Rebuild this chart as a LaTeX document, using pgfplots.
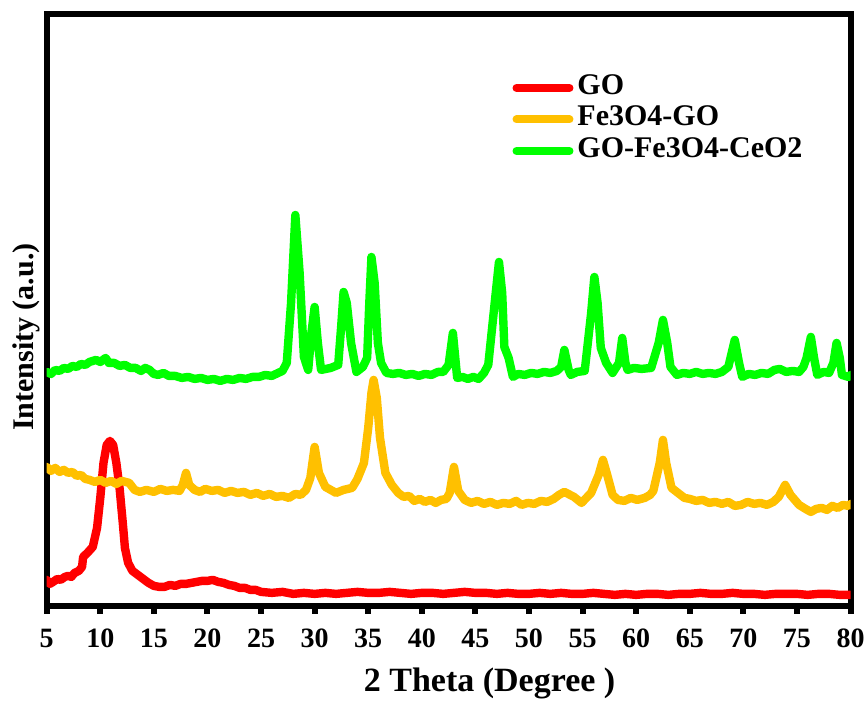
\documentclass[border=0pt]{standalone}
\usepackage{fontspec}
\setmainfont{Liberation Serif}
\usepackage{pgfplots}
\pgfplotsset{compat=1.18}
\usetikzlibrary{calc}
\definecolor{goRed}{RGB}{255,0,0}
\definecolor{feOrange}{RGB}{255,192,0}
\definecolor{ceGreen}{RGB}{0,255,0}

\begin{document}
\begin{tikzpicture}
\begin{axis}[
    name=ax,
    width=402pt, height=296pt,
    scale only axis,
    xmin=5, xmax=80,
    ymin=-3, ymax=589,
    xtick={5,10,...,80},
    ytick=\empty,
    tick align=outside,
    xtick pos=bottom,
    major tick length=4pt,
    tick style={line width=3pt, black},
    axis line style={line width=3pt},
    /pgf/number format/assume math mode=true,
    xticklabel style={font=\bfseries\fontsize{14}{16}\selectfont, yshift=-4.2pt},
    xlabel={2 Theta (Degree )},
    xlabel style={at={(axis description cs:0.551,0)}, anchor=base, yshift=-43pt,
        font=\bfseries\fontsize{17}{20}\selectfont},
    ylabel={Intensity (a.u.)},
    ylabel style={at={(axis description cs:0,0.454)}, anchor=south, rotate=0,
        font=\bfseries\fontsize{15}{18}\selectfont},
    every axis plot/.append style={line width=4.2pt, line join=round, line cap=round},
    legend style={at={(rel axis cs:0.579,0.9025)}, anchor=north west,
        draw=none, fill=none, inner sep=0pt,
        font=\bfseries\fontsize{15}{18}\selectfont,
        nodes={inner ysep=0pt, inner xsep=2pt, text height=11pt, text depth=4.8pt}},
    legend cell align=left,
    legend image code/.code={\draw[#1, line width=4pt, line cap=round] (2pt,0pt) -- (28.5pt,0pt);},
]

% GO
\addplot[color=goRed] coordinates {
(5,23)(5.3,19)(5.6,21)(6,24)(6.3,23)(6.7,26)(7,27)(7.3,26)(7.6,30)(8,32)
(8.3,36)(8.4,46)(8.8,50)(9.3,56)(9.7,75)(10.0,105)(10.3,140)(10.6,158)
(10.9,162)(11.2,158)(11.5,140)(11.8,115)(12.1,80)(12.3,55)(12.6,40)(13,32)
(13.5,28)(14,24)(14.5,20)(15,17)(15.5,16)(16,16)(16.5,18)(17,17)(17.5,19)
(18,19)(18.5,20)(19,21)(19.5,22)(20,22)(20.5,23)(21,21)(21.5,20)(22,18)
(22.5,17)(23,15)(23.5,15)(24,13)(24.5,13)(25,11)(26,10)(27,11)(28,9)(29,10)
(30,9)(31,10)(32,9)(33,10)(34,11)(35,10)(36,10)(37,11)(38,10)(39,9)(40,10)
(41,10)(42,9)(43,10)(44,11)(45,10)(46,10)(47,9)(48,10)(49,9)(50,9)(51,10)
(52,9)(53,10)(54,9)(55,9)(56,10)(57,9)(58,8)(59,9)(60,8)(61,9)(62,9)(63,8)
(64,9)(65,9)(66,10)(67,9)(68,9)(69,10)(70,9)(71,9)(72,8)(73,9)(74,9)(75,9)
(76,8)(77,9)(78,9)(79,8)(80,8)
};

% Fe3O4-GO
\addplot[color=feOrange] coordinates {
(5,136)(5.4,132)(5.8,135)(6.2,131)(6.6,133)(7,130)(7.4,131)(7.8,127)(8.2,128)
(8.6,124)(9,123)(9.5,121)(10,123)(10.5,120)(11,122)(11.5,119)(12,122)
(12.7,120)(13.2,113)(13.7,111)(14.3,113)(15,111)(15.6,114)(16.2,112)
(16.8,113)(17.4,112)(17.7,118)(18,130)(18.3,118)(18.8,113)(19.3,111)
(19.8,114)(20.4,112)(21,113)(21.6,110)(22.2,112)(22.8,110)(23.4,111)(24,108)
(24.6,110)(25.2,107)(25.8,109)(26.4,106)(27,107)(27.6,105)(28.2,109)
(28.7,108)(29.2,113)(29.6,125)(30,156)(30.4,130)(31,116)(32,110)(32.7,113)
(33.5,115)(34,124)(34.6,140)(35,175)(35.3,210)(35.5,223)(35.8,205)(36.1,165)
(36.6,130)(37.2,118)(37.8,110)(38.3,106)(38.8,107)(39.3,102)(39.8,104)
(40.3,101)(40.8,103)(41.3,100)(41.8,103)(42.3,104)(42.6,110)(43,136)
(43.4,112)(44,103)(44.6,100)(45.2,102)(45.8,99)(46.4,101)(47,98)(47.6,100)
(48.2,99)(48.8,102)(49.3,98)(49.9,100)(50.5,99)(51.1,102)(51.7,101)
(52.3,104)(52.8,108)(53.3,111)(54.2,106)(54.9,100)(55.8,110)(56.5,128)
(56.9,143)(57.3,128)(57.8,108)(58.3,103)(58.9,102)(59.5,105)(60.1,103)
(60.8,105)(61.3,108)(61.6,112)(62.2,140)(62.5,163)(62.8,140)(63.3,115)
(63.9,110)(64.5,105)(65,104)(65.6,102)(66.2,103)(66.8,100)(67.4,101)(68,99)
(68.6,101)(69.2,97)(69.8,98)(70.4,101)(71,99)(71.6,100)(72.2,98)(72.8,101)
(73.3,106)(73.9,118)(74.4,108)(75.2,98)(75.8,94)(76.3,91)(76.8,94)(77.3,95)
(77.8,93)(78.3,97)(78.8,95)(79.3,98)(79.8,97)(80,99)
};

% GO-Fe3O4-CeO2
\addplot[color=ceGreen] coordinates {
(5,231)(5.4,229)(5.8,233)(6.2,232)(6.6,235)(7,234)(7.4,237)(7.8,236)(8.2,239)
(8.6,238)(9,241)(9.6,243)(10,241)(10.5,245)(10.8,240)(11.3,240)(11.8,237)
(12.3,238)(12.8,235)(13.3,235)(13.8,232)(14.2,235)(14.6,233)(15,229)
(15.4,228)(15.9,230)(16.4,227)(17,227)(17.6,225)(18.2,226)(18.8,224)
(19.4,225)(20,223)(20.6,224)(21.2,222)(21.8,224)(22.4,223)(23,225)(23.6,224)
(24.2,226)(24.8,226)(25.4,228)(26,227)(26.6,230)(27,232)(27.4,240)(27.8,300)
(28.2,388)(28.6,330)(29,246)(29.4,233)(29.7,270)(30,296)(30.3,260)(30.6,233)
(31.5,235)(32.2,238)(32.5,280)(32.7,311)(33,300)(33.4,260)(33.9,231)
(34.5,236)(34.9,245)(35.1,300)(35.3,346)(35.6,320)(35.9,260)(36.2,240)
(36.7,230)(37.3,229)(37.9,230)(38.5,228)(39.1,229)(39.7,227)(40.3,229)
(40.9,228)(41.5,231)(42,231)(42.5,238)(42.9,270)(43.3,225)(43.8,226)
(44.3,224)(44.8,226)(45.3,224)(45.8,230)(46.2,238)(46.8,300)(47.2,341)
(47.5,310)(47.7,256)(48.1,245)(48.5,226)(49,229)(49.6,228)(50.2,230)
(50.8,229)(51.4,231)(52,230)(52.6,232)(53,236)(53.3,253)(53.7,233)(53.9,228)
(54.5,231)(55.2,232)(55.8,290)(56.1,326)(56.4,300)(56.7,255)(57.2,240)
(57.8,230)(58.4,240)(58.7,265)(59.0,240)(59.2,233)(59.8,235)(60.5,234)
(61.4,235)(62.1,260)(62.5,283)(62.9,260)(63.2,236)(63.8,228)(64.4,230)
(65,229)(65.6,231)(66.2,229)(66.8,230)(67.4,229)(68,231)(68.6,236)(69.2,263)
(69.6,240)(69.9,226)(70.5,229)(71.1,228)(71.7,230)(72.3,229)(72.9,233)
(73.4,234)(74,231)(74.6,232)(75.2,231)(75.6,236)(75.9,245)(76.3,266)
(76.6,245)(76.9,228)(77.5,231)(78,230)(78.4,240)(78.7,260)(79.0,245)
(79.2,228)(79.8,226)(80,228)
};

\legend{GO, Fe3O4-GO, GO-Fe3O4-CeO2}
\end{axis}
\pgfresetboundingbox
\path[use as bounding box] ($(ax.south west)+(-23.35pt,-48pt)$) rectangle ($(ax.north east)+(8.75pt,7pt)$);
\end{tikzpicture}
\end{document}
